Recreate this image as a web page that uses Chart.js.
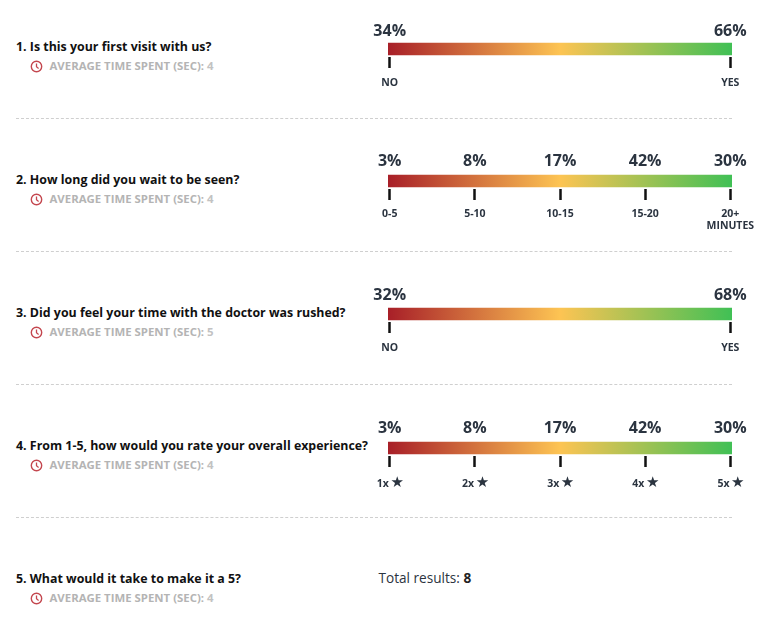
<!DOCTYPE html>
<html><head><meta charset="utf-8">
<script src="https://cdn.jsdelivr.net/npm/chart.js@4"></script>
<style>
html,body{margin:0;padding:0;background:#fff}
body{width:768px;height:633px;position:relative;overflow:hidden;font-family:"Open Sans",sans-serif}
canvas{position:absolute;left:360px}
.q{position:absolute;left:16px;font-size:12.4px;font-weight:700;color:#111;line-height:16px;white-space:nowrap}
.s{position:absolute;left:49.5px;font-size:11.4px;font-weight:700;color:#b4b4b4;line-height:14px;white-space:nowrap}
.s span{color:#c2c2c2}
.i{position:absolute;left:30px;width:13px;height:13px}
.d{position:absolute;left:16px;width:716px;border-top:1px dashed #cfcfcf}
.t{position:absolute;left:378.5px;top:569px;font-size:13.6px;line-height:18px;color:#2b3440}
.t b{color:#222}
</style></head><body>
<div id="root"></div>
<div class="t">Total results: <b>8</b></div>
<script>
const questions=["1. Is this your first visit with us?","2. How long did you wait to be seen?","3. Did you feel your time with the doctor was rushed?","4. From 1-5, how would you rate your overall experience?","5. What would it take to make it a 5?"];
const avgTime=[4,4,5,4,4];
const q1Labels=["NO","YES"];
const q1Values=[34,66];
const q2Labels=["0-5","5-10","10-15","15-20",["20+","MINUTES"]];
const q2Values=[3,8,17,42,30];
const q3Labels=["NO","YES"];
const q3Values=[32,68];
const q4Labels=["1x     ","2x     ","3x     ","4x     ","5x     "];
const q4Values=[3,8,17,42,30];
const rowTops=[47,180,313,446,579];
const dividers=[118,251,384,517];
const root=document.getElementById('root');
const ink='#2b3440';
questions.forEach((q,i)=>{
  const y=rowTops[i];
  root.insertAdjacentHTML('beforeend',
   `<div class="q" style="top:${y-8}px">${q}</div>
    <svg class="i" style="top:${y+13}px" viewBox="0 0 13 13"><circle cx="6.5" cy="6.5" r="5.2" fill="none" stroke="#c4474f" stroke-width="1.4"/><path d="M6.5 3.4V6.7L8.6 8.4" fill="none" stroke="#c4474f" stroke-width="1.3"/></svg>
    <div class="s" style="top:${y+12}px">AVERAGE TIME SPENT (SEC): <span>${avgTime[i]}</span></div>`);
});
dividers.forEach(y=>root.insertAdjacentHTML('beforeend',`<div class="d" style="top:${y}px"></div>`));
function scale(labels,pos,text,font,padding){
  return {type:'linear',position:pos,
    min:-0.005*(labels.length-1),max:(labels.length-1)*1.005,
    afterBuildTicks:s=>{s.ticks=labels.map((_,i)=>({value:i}))},
    afterFit:s=>{s.height=pos==='top'?31:50},
    border:{display:false},
    grid:{drawOnChartArea:false,drawTicks:pos==='bottom',tickLength:11,tickWidth:2.5,tickColor:'#111',color:'#111'},
    ticks:{autoSkip:false,maxRotation:0,minRotation:0,padding,color:ink,font,callback:(v)=>text[v]}};
}
const starPlugin={id:'stars',afterDraw(chart){
  const s=chart.scales.x,g=chart.ctx;
  g.save();g.font='15px "DejaVu Sans"';g.fillStyle=ink;g.textAlign='center';g.textBaseline='middle';
  s.ticks.forEach(t=>g.fillText('★',s.getPixelForValue(t.value)+7.5,74));
  g.restore();
}};
function bar(top,labels,values,pctPad,labelPad,plugins){
  const c=document.createElement('canvas');
  c.width=408;c.height=97;c.style.top=top+'px';
  root.appendChild(c);
  const n=labels.length-1;
  new Chart(c,{type:'bar',plugins:plugins||[],
    data:{labels:[''],datasets:[{data:[[-0.005*n,n*1.005]],barThickness:12,borderSkipped:false,
      xAxisID:'x',
      backgroundColor:ctx=>{const a=ctx.chart.chartArea;if(!a)return '#fdc453';
        const g=ctx.chart.ctx.createLinearGradient(a.left,0,a.right,0);
        g.addColorStop(0,'#a81f28');g.addColorStop(0.5,'#fdc453');g.addColorStop(1,'#40c055');return g;}}]},
    options:{indexAxis:'y',responsive:false,animation:false,
      layout:{padding:{left:28,right:36,top:0,bottom:0}},
      plugins:{legend:{display:false},tooltip:{enabled:false}},
      scales:{
        y:{display:false},
        x:scale(labels,'bottom',labels,{family:'"Open Sans"',size:10.5,weight:'700',lineHeight:1.05},labelPad),
        x2:scale(labels,'top',values.map(v=>v+'%'),{family:'"Open Sans"',size:16,weight:'700'},pctPad)
      }}});
}
bar(10,q1Labels,q1Values,0,10);
bar(142,q2Labels,q2Values,2,9);
bar(275,q3Labels,q3Values,1,10);
bar(409,q4Labels,q4Values,2,12,[starPlugin]);
</script>
</body></html>
